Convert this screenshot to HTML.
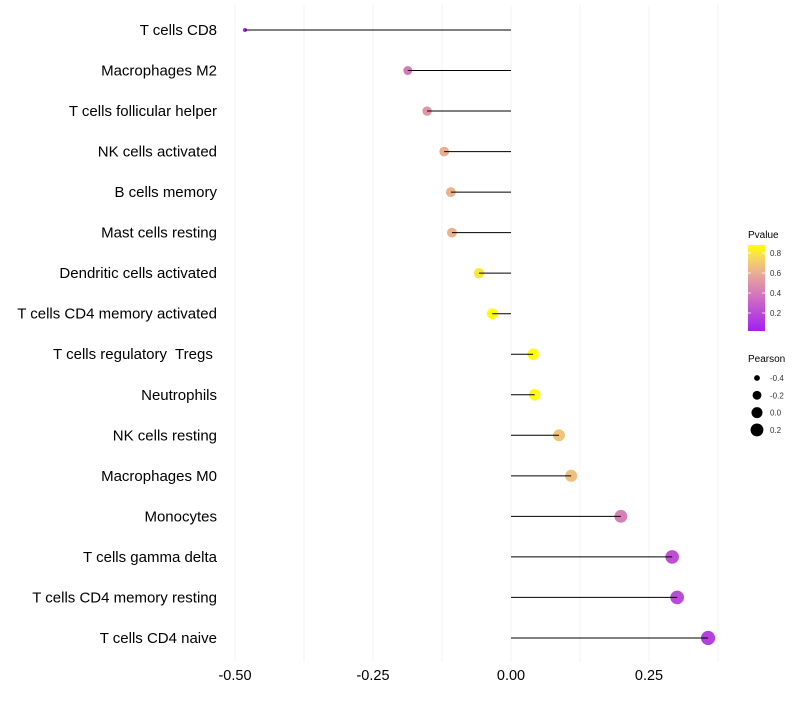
<!DOCTYPE html>
<html><head><meta charset="utf-8"><style>
body{margin:0;background:#fff;width:800px;height:700px;overflow:hidden;font-family:"Liberation Sans",sans-serif}
text{white-space:pre}
</style></head><body>
<svg id="chart" width="800" height="700" xmlns="http://www.w3.org/2000/svg">
<defs><linearGradient id="pg" x1="0" y1="1" x2="0" y2="0">
<stop offset="0" stop-color="#a020f0"/><stop offset="0.35" stop-color="#cc66c8"/><stop offset="0.65" stop-color="#e8a898"/><stop offset="0.85" stop-color="#f5d860"/><stop offset="1" stop-color="#ffff00"/></linearGradient></defs>
<g id="grid"></g><g id="marks"></g><g id="labels"></g>
<g>
<text x="748" y="238" font-size="10" fill="#000">Pvalue</text>
<rect x="748" y="245" width="17" height="86" fill="url(#pg)"/>
<g id="cbticks"></g>
</g>
<g id="sizeleg">
<text x="748" y="362" font-size="10" fill="#000">Pearson</text>
</g>
</svg>
<script>
const categories=["T cells CD8","Macrophages M2","T cells follicular helper","NK cells activated","B cells memory","Mast cells resting","Dendritic cells activated","T cells CD4 memory activated","T cells regulatory  Tregs ","Neutrophils","NK cells resting","Macrophages M0","Monocytes","T cells gamma delta","T cells CD4 memory resting","T cells CD4 naive"];
const pearson=[-0.482,-0.187,-0.152,-0.121,-0.109,-0.107,-0.058,-0.034,0.040,0.043,0.087,0.109,0.199,0.292,0.301,0.357];
const pvalues=[0.05,0.4,0.5,0.6,0.62,0.62,0.8,0.88,0.88,0.87,0.68,0.66,0.42,0.22,0.2,0.16];
const xTicks=[-0.5,-0.25,0,0.25];
const xTickLabels=["-0.50","-0.25","0.00","0.25"];
const cbTicks=[0.2,0.4,0.6,0.8];
const sizeTicks=[-0.4,-0.2,0.0,0.2];
const NS="http://www.w3.org/2000/svg";
const X=v=>511+v*552;
const Y=i=>30+i*40.53;
const pmin=Math.min(...pearson),pmax=Math.max(...pearson);
const R=p=>Math.sqrt(Math.max(1,4+(50-4)*(p-pmin)/(pmax-pmin)));
const CB=p=>331-(p-0.02)/0.86*86;
function mk(t,a,parent){const e=document.createElementNS(NS,t);for(const k in a)e.setAttribute(k,a[k]);parent.appendChild(e);return e;}
const stops=[[0,[160,32,240]],[0.35,[204,102,200]],[0.65,[232,168,152]],[0.85,[245,216,96]],[1,[255,255,0]]];
function col(p){let t=(p-0.02)/0.86;t=Math.max(0,Math.min(1,t));for(let i=1;i<stops.length;i++){if(t<=stops[i][0]){const a=stops[i-1],b=stops[i];const f=(t-a[0])/(b[0]-a[0]);const c=a[1].map((v,j)=>Math.round(v+(b[1][j]-v)*f));return `rgb(${c})`;}}return "rgb(255,255,0)";}
const grid=document.getElementById('grid'),marks=document.getElementById('marks'),labels=document.getElementById('labels');
for(let v=-0.5;v<=0.38;v+=0.125){
 const g=mk('line',{x1:X(v),x2:X(v),y1:5,y2:662,stroke:'#f3f3f3','stroke-width':1},grid);
 
 
}
xTicks.forEach((v,i)=>{
 const t=mk('text',{x:X(v),y:680,'font-size':14.5,'text-anchor':'middle',fill:'#000'},labels);
 t.textContent=xTickLabels[i];
 
 
});
categories.forEach((c,i)=>{
 const t=mk('text',{x:217,y:Y(i)+5,'font-size':15,'text-anchor':'end',fill:'#000'},labels);
 t.textContent=c;
 
 
 const d=mk('circle',{cx:X(pearson[i]),cy:Y(i),r:R(pearson[i]),fill:col(pvalues[i])},marks);
 
 
 const l=mk('line',{x1:X(0),x2:X(pearson[i]),y1:Y(i),y2:Y(i),stroke:'#000','stroke-width':1},marks);
 
 
});
const cb=document.getElementById('cbticks');
cbTicks.forEach(p=>{
 mk('line',{x1:748,x2:751,y1:CB(p),y2:CB(p),stroke:'#fff','stroke-width':0.8},cb);
 mk('line',{x1:762,x2:765,y1:CB(p),y2:CB(p),stroke:'#fff','stroke-width':0.8},cb);
 const t=mk('text',{x:770,y:CB(p)+3,'font-size':8,fill:'#333'},cb);
 t.textContent=p.toFixed(1);
 
 
});
const sl=document.getElementById('sizeleg');
sizeTicks.forEach((p,i)=>{
 const y=378+i*17.3;
 const c=mk('circle',{cx:757,cy:y,r:R(p),fill:'#000'},sl);
 
 
 const t=mk('text',{x:770,y:y+3,'font-size':8,fill:'#333'},sl);
 t.textContent=p.toFixed(1);
 
 
});
</script>
</body></html>
